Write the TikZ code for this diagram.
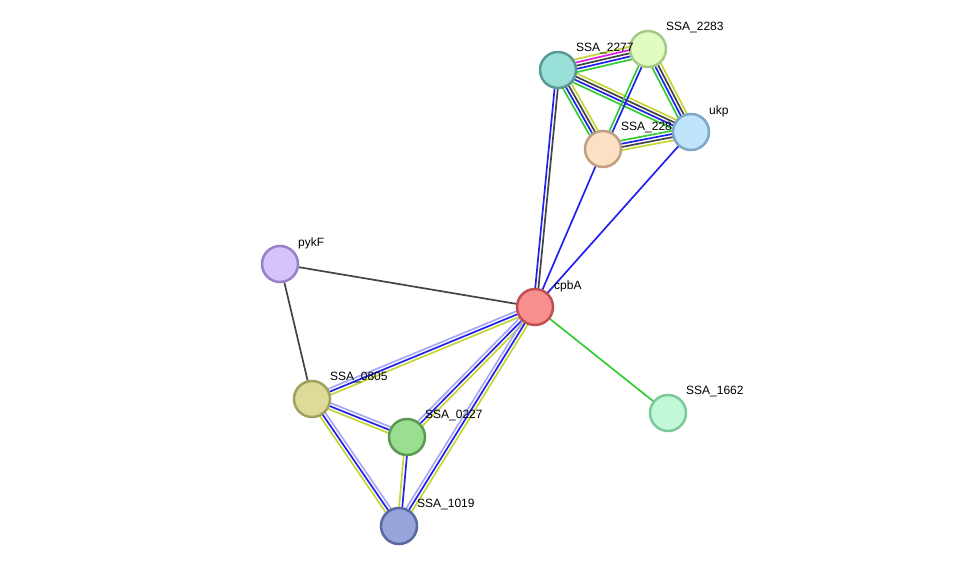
\documentclass[tikz,border=0pt]{standalone}
\usepackage{fontspec}
\setmainfont{Liberation Sans}
\usetikzlibrary{calc,backgrounds}
\definecolor{cG}{HTML}{33CC33}
\definecolor{cB}{HTML}{2222EE}
\definecolor{cK}{HTML}{444444}
\definecolor{cM}{HTML}{DD22DD}
\definecolor{cY}{HTML}{C4D636}
\definecolor{cL}{HTML}{A8A8F8}
\newcommand\medge[4]{%
  \foreach \cc [count=\i] in {#4} {%
    \pgfmathsetmacro\oo{(\i-(#3+1)/2)*3.2}%
    \draw[\cc,line width=1.7pt] ($(#1)!\oo pt!90:(#2)$) -- ($(#2)!\oo pt!-90:(#1)$);
  }}
\tikzset{prot/.style={circle,minimum size=36pt,line width=2.5pt,inner sep=0pt},
  lab/.style={anchor=west,font=\fontsize{12pt}{13pt}\selectfont,inner sep=0pt}}
\begin{document}
\begin{tikzpicture}[x=1pt,y=-1pt]
\useasboundingbox (0,0) rectangle (975,572);
\node[prot,fill={rgb,255:red,248;green,143;blue,143},draw={rgb,255:red,192;green,80;blue,80}] (cpbA) at (535,307) {};
\node[prot,fill={rgb,255:red,212;green,196;blue,250},draw={rgb,255:red,154;green,128;blue,200}] (pykF) at (280,264) {};
\node[prot,fill={rgb,255:red,220;green,220;blue,152},draw={rgb,255:red,160;green,160;blue,96}] (s0805) at (312,399) {};
\node[prot,fill={rgb,255:red,154;green,222;blue,144},draw={rgb,255:red,90;green,154;blue,80}] (s0227) at (407,437) {};
\node[prot,fill={rgb,255:red,152;green,164;blue,220},draw={rgb,255:red,90;green,104;blue,160}] (s1019) at (399,526) {};
\node[prot,fill={rgb,255:red,192;green,248;blue,216},draw={rgb,255:red,124;green,200;blue,152}] (s1662) at (668,413) {};
\node[prot,fill={rgb,255:red,152;green,224;blue,216},draw={rgb,255:red,90;green,154;blue,148}] (s2277) at (558,70) {};
\node[prot,fill={rgb,255:red,224;green,252;blue,192},draw={rgb,255:red,168;green,200;blue,136}] (s2283) at (648,49) {};
\node[prot,fill={rgb,255:red,192;green,228;blue,250},draw={rgb,255:red,124;green,168;blue,200}] (ukp) at (691,132) {};
\node[prot,fill={rgb,255:red,252;green,224;blue,196},draw={rgb,255:red,192;green,160;blue,128}] (s228) at (603,149) {};
\begin{scope}[on background layer]
\medge{s2277}{s2283}{5}{cG,cB,cK,cM,cY}
\medge{s2277}{ukp}{4}{cG,cB,cK,cY}
\medge{s2277}{s228}{4}{cG,cB,cK,cY}
\medge{s2283}{s228}{2}{cG,cB}
\medge{s2283}{ukp}{4}{cG,cB,cK,cY}
\medge{s228}{ukp}{4}{cY,cK,cB,cG}
\medge{s2277}{cpbA}{2}{cB,cK}
\medge{s228}{cpbA}{1}{cB}
\medge{ukp}{cpbA}{1}{cB}
\medge{pykF}{cpbA}{1}{cK}
\medge{pykF}{s0805}{1}{cK}
\medge{cpbA}{s1662}{1}{cG}
\medge{cpbA}{s0805}{3}{cL,cB,cY}
\medge{cpbA}{s0227}{3}{cL,cB,cY}
\medge{cpbA}{s1019}{3}{cL,cB,cY}
\medge{s0805}{s0227}{3}{cY,cB,cL}
\medge{s0805}{s1019}{3}{cY,cB,cL}
\medge{s0227}{s1019}{2}{cY,cB}
\end{scope}
\node[lab] at ($(cpbA)+(19,-21)$) {cpbA};
\node[lab] at ($(pykF)+(18,-21)$) {pykF};
\node[lab] at ($(s0805)+(18,-21)$) {SSA\_0805};
\node[lab] at ($(s0227)+(18,-21)$) {SSA\_0227};
\node[lab] at ($(s1019)+(18,-21)$) {SSA\_1019};
\node[lab] at ($(s1662)+(18,-21)$) {SSA\_1662};
\node[lab] at ($(s2277)+(18,-21)$) {SSA\_2277};
\node[lab] at ($(s2283)+(18,-21)$) {SSA\_2283};
\node[lab] at ($(ukp)+(18,-21)$) {ukp};
\node[lab] at ($(s228)+(18,-21)$) {SSA\_228};
\end{tikzpicture}
\end{document}
